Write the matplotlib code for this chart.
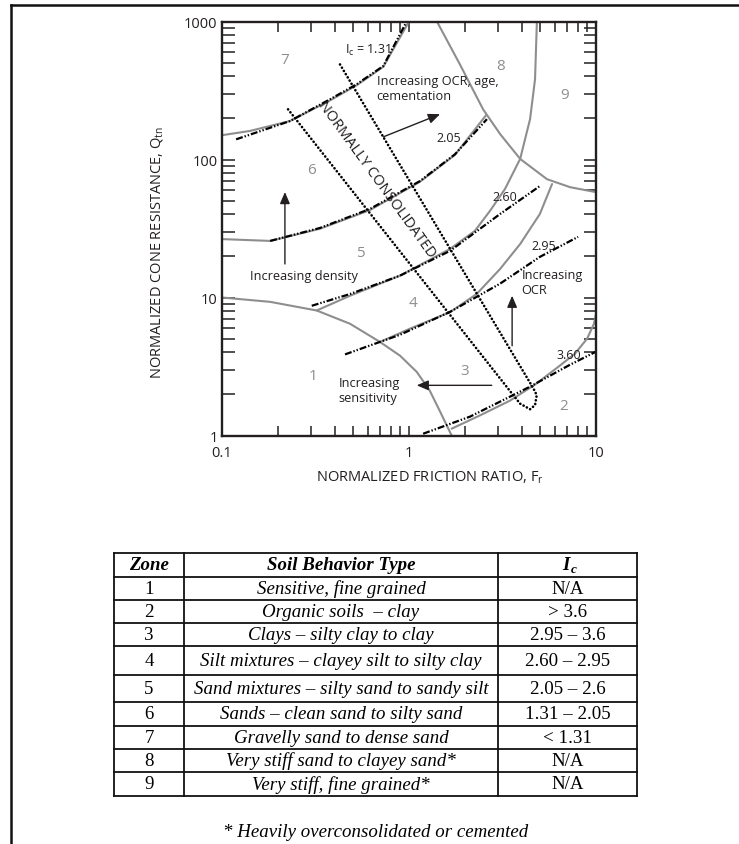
import matplotlib
matplotlib.use("Agg")
import matplotlib.pyplot as plt
from matplotlib.lines import Line2D

plt.rcParams["font.family"] = ["Open Sans", "DejaVu Sans"]
plt.rcParams["mathtext.fontset"] = "custom"
plt.rcParams["mathtext.rm"] = "Open Sans"
plt.rcParams["mathtext.it"] = "Open Sans:italic"
plt.rcParams["lines.scale_dashes"] = False

W, H = 739, 845
GRAY = "#8e8e8e"
INK = "#231f20"

# --- SBTn zone boundaries, (Fr %, Qtn) ---
zone1_fr = [0.10, 0.181, 0.321, 0.484, 0.70, 0.895, 1.10, 1.29, 1.47, 1.69]
zone1_qtn = [10.0, 9.3, 8.05, 6.45, 4.76, 3.79, 2.89, 2.12, 1.48, 1.0]

zone23_fr = [1.69, 2.40, 3.47, 4.72, 6.41, 7.72, 8.96, 9.75, 10.0]
zone23_qtn = [1.12, 1.40, 1.79, 2.34, 3.21, 3.92, 5.03, 6.45, 7.6]

zone34_fr = [0.70, 1.01, 1.66, 2.30, 3.07, 3.93, 5.01, 5.82]
zone34_qtn = [4.76, 5.94, 7.84, 10.6, 16.1, 24.4, 40.3, 66.4]

zone45_fr = [0.321, 0.484, 0.895, 1.66, 2.25, 2.71, 3.26, 3.93, 4.44, 4.72, 4.83]
zone45_qtn = [8.05, 10.3, 14.4, 22.5, 30.4, 42.4, 61.1, 101, 196, 381, 1000]

zone56_fr = [0.10, 0.181, 0.334, 0.618, 1.145, 1.76, 2.58]
zone56_qtn = [26.5, 25.7, 31.5, 43.0, 69.0, 108, 209]

zone67_fr = [0.10, 0.141, 0.231, 0.378, 0.525, 0.729, 1.0]
zone67_qtn = [150, 161, 190, 268, 345, 470, 1000]

zone8_fr = [1.41, 1.87, 2.49, 3.07, 3.93, 5.47, 7.27, 10.0]
zone8_qtn = [1000, 490, 231, 153, 101, 72, 63, 58]

# --- Ic contours ---
ic_labels = ["1.31", "2.05", "2.60", "2.95", "3.60"]
ic_fr = [
    [0.119, 0.231, 0.378, 0.525, 0.729, 0.972],
    [0.181, 0.334, 0.618, 1.145, 1.76, 2.61],
    [0.302, 0.484, 0.895, 1.66, 3.07, 5.01],
    [0.455, 0.895, 1.66, 3.07, 5.01, 8.02],
    [1.19, 2.12, 4.44, 7.27, 10.0],
]
ic_qtn = [
    [140, 190, 273, 351, 476, 1000],
    [25.7, 31.9, 43.8, 69.8, 109, 196],
    [8.71, 10.6, 14.4, 21.8, 40.3, 64.2],
    [3.87, 5.37, 7.88, 12.6, 19.7, 27.5],
    [1.03, 1.37, 2.26, 3.26, 4.05],
]

# --- normally consolidated band ---
nc_fr = [0.2255, 3.61, 3.93, 4.44, 4.72, 4.82, 4.63, 0.427]
nc_qtn = [231, 1.96, 1.70, 1.55, 1.66, 1.96, 2.19, 490]

zone_ids = ["1", "2", "3", "4", "5", "6", "7", "8", "9"]
zone_fr = [0.308, 6.68, 1.99, 1.055, 0.547, 0.302, 0.217, 3.07, 6.83]
zone_qtn = [2.73, 1.65, 2.94, 9.26, 21.3, 85.2, 532, 476, 297]

# --- table ---
soil_types = [
    "Sensitive, fine grained",
    "Organic soils  \u2013 clay",
    "Clays \u2013 silty clay to clay",
    "Silt mixtures \u2013 clayey silt to silty clay",
    "Sand mixtures \u2013 silty sand to sandy silt",
    "Sands \u2013 clean sand to silty sand",
    "Gravelly sand to dense sand",
    "Very stiff sand to clayey sand*",
    "Very stiff, fine grained*",
]
ic_ranges = ["N/A", "> 3.6", "2.95 \u2013 3.6", "2.60 \u2013 2.95", "2.05 \u2013 2.6",
             "1.31 \u2013 2.05", "< 1.31", "N/A", "N/A"]


def fx(px):
    return px / W


def fy(py):
    return 1 - py / H


fig = plt.figure(figsize=(W / 100, H / 100), dpi=100)

# page frame (top and left edges)
fig.add_artist(Line2D([fx(11), fx(11)], [fy(6), 0], color="#111111", lw=1.8))
fig.add_artist(Line2D([fx(11), 1], [fy(6), fy(6)], color="#111111", lw=1.8))

ax = fig.add_axes([fx(222), fy(436.5), fx(596) - fx(222), fy(22.5) - fy(436.5)])
ax.set_xscale("log")
ax.set_yscale("log")
ax.set_xlim(0.1, 10)
ax.set_ylim(1, 1000)

for fr, q in [(zone1_fr, zone1_qtn), (zone23_fr, zone23_qtn), (zone34_fr, zone34_qtn),
              (zone45_fr, zone45_qtn), (zone56_fr, zone56_qtn), (zone67_fr, zone67_qtn),
              (zone8_fr, zone8_qtn)]:
    ax.plot(fr, q, color=GRAY, lw=1.5, solid_capstyle="round", solid_joinstyle="round")

for fr, q in zip(ic_fr, ic_qtn):
    ax.plot(fr, q, color="black", lw=1.6,
            linestyle=(0, (5.0, 1.4, 1.0, 1.4, 1.0, 1.4)))

ax.plot(nc_fr, nc_qtn, color="black", lw=1.9, linestyle=(0, (0.1, 2.6)),
        dash_capstyle="round")

for zid, fr, q in zip(zone_ids, zone_fr, zone_qtn):
    ax.text(fr, q, zid, color=GRAY, fontsize=11, ha="center", va="center")

# Ic labels
ax.text(0.455, 629, r"I$_\mathrm{c}$ = 1.31", fontsize=9, color=INK, ha="left", va="center")
ic_label_pos = [None, (1.41, 145), (2.81, 53.5), (4.53, 23.8), (6.17, 3.87)]
for lab, pos in zip(ic_labels, ic_label_pos):
    if pos is not None:
        ax.text(pos[0], pos[1], lab, fontsize=9, color=INK, ha="left", va="center")

ax.text(0.675, 72, "NORMALLY CONSOLIDATED", fontsize=10.5, color=INK,
        rotation=-54, ha="center", va="center", rotation_mode="anchor")

ax.text(0.672, 331, "Increasing OCR, age,\ncementation", fontsize=9.2, color=INK,
        ha="left", va="center", linespacing=1.2)
ax.text(0.141, 14.5, "Increasing density", fontsize=9.2, color=INK, ha="left", va="center")
ax.text(0.419, 2.12, "Increasing\nsensitivity", fontsize=9.2, color=INK,
        ha="left", va="center", linespacing=1.2)
ax.text(4.0, 13.0, "Increasing\nOCR", fontsize=9.2, color=INK,
        ha="left", va="center", linespacing=1.2)

arrow = dict(arrowstyle="-|>,head_length=0.7,head_width=0.3", color=INK, lw=1.0,
             shrinkA=0, shrinkB=0)
ax.annotate("", xy=(1.465, 213), xytext=(0.73, 146), arrowprops=arrow)
ax.annotate("", xy=(0.217, 58.1), xytext=(0.217, 17.5), arrowprops=arrow)
ax.annotate("", xy=(3.56, 10.3), xytext=(3.56, 4.47), arrowprops=arrow)
ax.annotate("", xy=(1.10, 2.31), xytext=(2.77, 2.31), arrowprops=arrow)

ax.set_xticks([0.1, 1, 10])
ax.set_xticklabels(["0.1", "1", "10"])
ax.set_yticks([1, 10, 100, 1000])
ax.set_yticklabels(["1", "10", "100", "1000"])
ax.tick_params(axis="x", which="both", direction="in", top=True, length=7.2,
               width=1.1, labelsize=10.5, pad=6.5, colors=INK)
ax.tick_params(axis="y", which="both", direction="in", right=True, length=9,
               width=1.1, labelsize=10.5, pad=3.2, colors=INK)
for s in ax.spines.values():
    s.set_linewidth(1.7)
    s.set_color(INK)

fig.text(fx(157), fy(252), r"NORMALIZED CONE RESISTANCE, Q$_\mathrm{tn}$", rotation=90,
         fontsize=10.5, color=INK, ha="center", va="center")
fig.text(fx(430), fy(478), r"NORMALIZED FRICTION RATIO, F$_\mathrm{r}$",
         fontsize=10.5, color=INK, ha="center", va="center")

# --- soil behaviour type table ---
col_x = [114, 184, 498, 637]
row_y = [554, 578, 601, 624, 647, 676, 703, 727, 750, 773, 797]
for y in row_y:
    fig.add_artist(Line2D([fx(col_x[0]), fx(col_x[-1])], [fy(y), fy(y)], color="#111111", lw=1.3))
for x in col_x:
    fig.add_artist(Line2D([fx(x), fx(x)], [fy(row_y[0]), fy(row_y[-1])], color="#111111", lw=1.3))

serif = "Liberation Serif"
fs = 13.6
cx = [(col_x[i] + col_x[i + 1]) / 2 for i in range(3)]
hy = fy((row_y[0] + row_y[1]) / 2)
fig.text(fx(cx[0]), hy, "Zone", family=serif, style="italic", weight="bold",
         fontsize=fs, ha="center", va="center")
fig.text(fx(cx[1]), hy, "Soil Behavior Type", family=serif, style="italic", weight="bold",
         fontsize=fs, ha="center", va="center")
fig.text(fx(cx[2] - 2), hy, "I", family=serif, style="italic", weight="bold",
         fontsize=fs, ha="center", va="center")
fig.text(fx(cx[2] + 3), fy((row_y[0] + row_y[1]) / 2 + 4), "c", family=serif, style="italic",
         weight="bold", fontsize=9.5, ha="left", va="center")

for i, (zid, soil, ic) in enumerate(zip(zone_ids, soil_types, ic_ranges)):
    yc = fy((row_y[i + 1] + row_y[i + 2]) / 2)
    fig.text(fx(cx[0]), yc, zid, family=serif, fontsize=fs, ha="center", va="center")
    fig.text(fx(cx[1]), yc, soil, family=serif, style="italic", fontsize=fs,
             ha="center", va="center")
    fig.text(fx(cx[2]), yc, ic, family=serif, fontsize=fs, ha="center", va="center")

fig.text(fx(376), fy(833), "* Heavily overconsolidated or cemented", family=serif,
         style="italic", fontsize=fs, ha="center", va="center")

fig.savefig("out.png", dpi=100)
